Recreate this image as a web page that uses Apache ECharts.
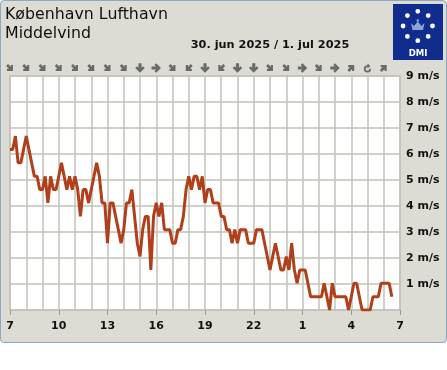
<!DOCTYPE html>
<html>
<head>
<meta charset="utf-8">
<script src="https://cdn.jsdelivr.net/npm/echarts@6/dist/echarts.min.js"></script>
<style>
html,body{margin:0;padding:0;background:#ffffff;}
#frame{position:absolute;left:0;top:0;width:445px;height:341px;border:1px solid #8fa7bb;border-radius:4px;background:#dcdcd4;}
#chart{position:absolute;left:0;top:0;width:447px;height:370px;}
</style>
</head>
<body>
<div id="frame"></div>
<div id="chart"></div>
<script>
// ---- data ----
// 10-minute mean wind (m/s) from 30 jun 07:00 to 1 jul 06:30
const windMs = [
  6.17,6.17,6.69,5.66,5.66,6.17,
  6.69,6.17,5.66,5.14,5.14,4.63,
  4.63,5.14,4.12,5.14,4.63,4.63,
  5.14,5.66,5.14,4.63,5.14,4.63,
  5.14,4.63,3.60,4.63,4.63,4.12,
  4.63,5.14,5.66,5.14,4.12,4.12,
  2.57,4.12,4.12,3.60,3.09,2.57,
  3.09,4.12,4.12,4.63,3.60,2.57,
  2.06,3.09,3.60,3.60,1.54,3.60,
  4.12,3.60,4.12,3.09,3.09,3.09,
  2.57,2.57,3.09,3.09,3.60,4.63,
  5.14,4.63,5.14,5.14,4.63,5.14,
  4.12,4.63,4.63,4.12,4.12,4.12,
  3.60,3.60,3.09,3.09,2.57,3.09,
  2.57,3.09,3.09,3.09,2.57,2.57,
  2.57,3.09,3.09,3.09,2.57,2.06,
  1.54,2.06,2.57,2.06,1.54,1.54,
  2.06,1.54,2.57,1.54,1.03,1.54,
  1.54,1.54,1.03,0.51,0.51,0.51,
  0.51,0.51,1.03,0.51,0.00,1.03,
  0.51,0.51,0.51,0.51,0.51,0.00,
  0.51,1.03,1.03,0.51,0.00,0.00,
  0.00,0.00,0.51,0.51,0.51,1.03,
  1.03,1.03,1.03,0.51
];
// hourly wind direction arrows (direction the arrow points), 07:00 .. 06:00
const arrowDirs = ['SE','SE','SE','SE','SE','SE','SE','SE','S','E','SE','SW',
                   'S','SW','S','S','SE','SE','E','SE','E','NE','VAR','NE'];
const xTickLabels = ['7','10','13','16','19','22','1','4','7'];
const yTickValues = [0,1,2,3,4,5,6,7,8,9];
const titleLines = ['København Lufthavn','Middelvind'];
const dateText = '30. jun 2025 / 1. jul 2025';

// category axis: 10-minute slots, 07:00 .. 07:00 next day
const slots = [];
for (let i = 0; i <= 144; i++) {
  const h = (7 + Math.floor(i / 6)) % 24, m = (i % 6) * 10;
  slots.push((h < 10 ? '0' : '') + h + ':' + (m === 0 ? '00' : m));
}

const rot = {S:0, SE:45, E:90, NE:135, N:180, NW:-135, W:-90, SW:-45};
const arrowPath = 'path://M3.3,0 L6.7,0 L6.7,4.8 L8.3,3.2 L10.2,5.1 L5,10.3 L-0.2,5.1 L1.7,3.2 L3.3,4.8 Z';
const varPath = 'path://M5,1 A4,4 0 1 0 9,5 L7,5 A2,2 0 1 1 5,3 L5,4.6 L8.2,1.9 L5,-0.8 Z';
const arrowData = arrowDirs.map((d, i) => d === 'VAR'
  ? {value: [i * 6, 0], symbol: varPath, symbolRotate: 0, symbolSize: 9}
  : {value: [i * 6, 0], symbol: arrowPath, symbolRotate: rot[d], symbolSize: d.length === 2 ? 8.5 : 9.5});

const chart = echarts.init(document.getElementById('chart'), null, {renderer: 'canvas'});
const FONT = 'DejaVu Sans';

// DMI logo dots
const dots = [];
for (let k = 0; k < 8; k++) {
  const a = k * Math.PI / 4;
  dots.push({type: 'circle', shape: {cx: 417.8 + 14.7 * Math.sin(a), cy: 26 - 14.7 * Math.cos(a), r: 2.4},
             style: {fill: '#ffffff'}});
}

chart.setOption({
  animation: false,
  backgroundColor: 'transparent',
  grid: [
    {left: 10, right: 47, top: 76, bottom: 60, show: true, backgroundColor: '#ffffff',
     borderColor: '#c2c2b8', borderWidth: 1.5},
    {left: 10, right: 47, top: 60, height: 16}
  ],
  xAxis: [
    {type: 'category', gridIndex: 0, data: slots, boundaryGap: false, offset: 5,
     axisLine: {show: false},
     axisTick: {show: true, length: 5, interval: (i) => i % 18 === 0, lineStyle: {color: '#9a9a92', width: 1}},
     axisLabel: {show: true, interval: (i) => i % 18 === 0, margin: 6,
                 formatter: (v, i) => xTickLabels[i / 18],
                 fontFamily: FONT, fontWeight: 'bold', fontSize: 11, color: '#111'},
     splitLine: {show: true, interval: (i) => i % 6 === 0, lineStyle: {color: '#c2c2b8', width: 1.5}}},
    {type: 'category', gridIndex: 1, data: slots, boundaryGap: false, show: false}
  ],
  yAxis: [
    {type: 'value', gridIndex: 0, position: 'right', min: 0, max: 9, interval: 1,
     axisLine: {show: false}, axisTick: {show: false},
     axisLabel: {margin: 6, fontFamily: FONT, fontWeight: 'bold', fontSize: 11, color: '#111',
                 formatter: (v) => yTickValues.indexOf(v) > 0 ? v + ' m/s' : ''},
     splitLine: {show: true, lineStyle: {color: '#c2c2b8', width: 1.5}}},
    {type: 'value', gridIndex: 1, min: -1, max: 1, show: false}
  ],
  graphic: [
    {type: 'text', style: {x: 5, y: 15, text: titleLines[0], font: '15.8px "DejaVu Sans"', fill: '#111',
      textVerticalAlign: 'middle'}},
    {type: 'text', style: {x: 5, y: 34, text: titleLines[1], font: '15.8px "DejaVu Sans"', fill: '#111',
      textVerticalAlign: 'middle'}},
    {type: 'text', style: {x: 270, y: 45.5, text: dateText, font: 'bold 11.3px "DejaVu Sans"', fill: '#111',
      textAlign: 'center', textVerticalAlign: 'middle'}},
    {type: 'rect', shape: {x: 393, y: 4, width: 50, height: 56}, style: {fill: '#102c8c'}},
    ...dots,
    {type: 'polygon', shape: {points: [[412.5,30],[423,30],[424.5,23],[421.5,26],[417.8,21.5],[414,26],[411,23]]},
     style: {fill: '#8ea3dc'}},
    {type: 'circle', shape: {cx: 417.8, cy: 20.5, r: 1.3}, style: {fill: '#8ea3dc'}},
    {type: 'text', style: {x: 418, y: 54, text: 'DMI', font: 'bold 8.5px "DejaVu Sans"', fill: '#ffffff',
      textAlign: 'center', textVerticalAlign: 'middle'}}
  ],
  series: [
    {type: 'line', xAxisIndex: 0, yAxisIndex: 0, data: windMs, showSymbol: false, symbol: 'none',
     lineStyle: {color: '#b0401b', width: 3}, z: 5},
    {type: 'scatter', xAxisIndex: 1, yAxisIndex: 1, data: arrowData, symbolKeepAspect: true,
     itemStyle: {color: '#4d4d4d'}, silent: true}
  ]
});
</script>
</body>
</html>
